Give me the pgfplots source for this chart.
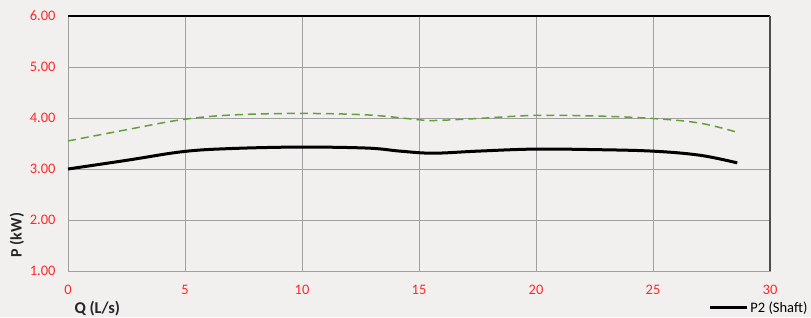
\documentclass[border=0pt]{standalone}
\usepackage{pgfplots}
\pgfplotsset{compat=1.18}
\usepackage{fontspec}
\setmainfont{Carlito}
\definecolor{bg}{RGB}{241,240,239}
\definecolor{tickred}{RGB}{255,40,40}
\definecolor{dgreen}{RGB}{98,160,60}
\definecolor{gridg}{RGB}{160,160,160}
\begin{document}
\begin{tikzpicture}[x=1pt,y=1pt]
\fill[bg] (0,0) rectangle (811,317);
\path[use as bounding box] (0,0) rectangle (811,317);
\begin{axis}[
  at={(68pt,46pt)}, anchor=south west,
  scale only axis, width=702pt, height=255pt,
  xmin=0, xmax=30, ymin=1, ymax=6,
  xtick={0,5,...,30}, ytick={1,2,...,6},
  grid=major,
  grid style={gridg, line width=0.8pt},
  axis line style={gridg, line width=1pt},
  tick style={draw=none},
  ticklabel style={font=\fontsize{14.5}{16}\selectfont, text=tickred},
  /pgf/number format/assume math mode=true,
  yticklabel style={/pgf/number format/fixed, /pgf/number format/fixed zerofill, /pgf/number format/precision=2},
  xticklabel style={yshift=-11pt},
  yticklabel style={xshift=-9pt},
  clip=false,
  legend style={at={(0.912,-0.145)}, anchor=west, draw=none, fill=none,
    font=\fontsize{14.5}{16}\selectfont, inner sep=0pt},
  legend image code/.code={\draw[#1] (0pt,0pt) -- (37pt,0pt);},
]
\addplot[dgreen, line width=1.5pt, dash pattern=on 8pt off 5pt, smooth, tension=0.6, forget plot] coordinates {
(0,3.55) (2.5,3.77) (4.9,3.97) (7.05,4.06) (9.9,4.09) (12.8,4.06) (14.9,3.97) (15.6,3.95) (17.5,3.99) (19.9,4.05) (22.5,4.04) (25,3.99) (27,3.90) (28.6,3.72)
};
\addplot[black, line width=3pt, smooth, tension=0.6] coordinates {
(0,3.00) (2.5,3.17) (4.9,3.34) (6.9,3.40) (9.9,3.43) (12.8,3.41) (14.2,3.35) (15.6,3.31) (17.5,3.35) (19.9,3.39) (22.5,3.38) (25,3.35) (27,3.27) (28.6,3.12)
};
\addlegendentry{P2 (Shaft)}
\draw[black, line width=1.2pt] (axis cs:0,6) -- (axis cs:30,6);
\draw[black!70, line width=1.2pt] (axis cs:30,6) -- (axis cs:30,1);
\end{axis}
\node[rotate=90, font=\bfseries\fontsize{16}{18}\selectfont, text=black!85] at (17,82) {P (kW)};
\node[anchor=west, font=\bfseries\fontsize{16.5}{18}\selectfont, text=black!85] at (71,8) {Q (L/s)};
\end{tikzpicture}
\end{document}
